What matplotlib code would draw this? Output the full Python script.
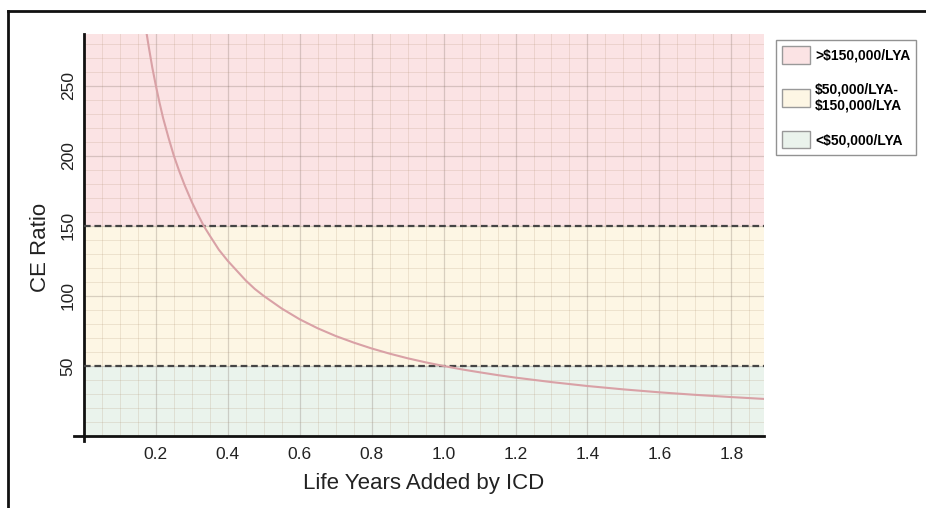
import matplotlib.pyplot as plt
from matplotlib.lines import Line2D
from matplotlib.patches import Patch
from matplotlib.ticker import MultipleLocator
import numpy as np

# values
life_years = [0.17, 0.18, 0.19, 0.20, 0.21, 0.22, 0.235, 0.25, 0.265, 0.28, 0.30,
              0.315, 0.333, 0.35, 0.375, 0.40, 0.425, 0.45, 0.475, 0.50, 0.55,
              0.60, 0.65, 0.70, 0.75, 0.80, 0.85, 0.90, 0.95, 1.00, 1.05, 1.10,
              1.15, 1.20, 1.30, 1.40, 1.50, 1.60, 1.70, 1.80, 1.89]
ce_ratio = [294, 278, 263, 250, 238, 227, 213, 200, 189, 179, 167,
            159, 150, 143, 133, 125, 118, 111, 105, 100, 91,
            83.3, 76.9, 71.4, 66.7, 62.5, 58.8, 55.5, 52.6, 50, 47.6, 45.5,
            43.5, 41.7, 38.5, 35.7, 33.3, 31.2, 29.4, 27.8, 26.5]

thresholds = [50, 150]
band_labels = ['>\\$150,000/LYA', '\\$50,000/LYA-\n\\$150,000/LYA', '<\\$50,000/LYA']
band_colors = ['#fbe3e4', '#fdf6e4', '#eaf3ec']
x_ticks = [0.2, 0.4, 0.6, 0.8, 1.0, 1.2, 1.4, 1.6, 1.8]
y_ticks = [50, 100, 150, 200, 250]

plt.rcParams['font.family'] = ['Liberation Sans', 'DejaVu Sans']

fig = plt.figure(figsize=(9.26, 5.08), dpi=100)
ax = fig.add_axes([0.0907, 0.1417, 0.734, 0.7913])
xmax, ymax = 1.89, 287

# colour bands
ax.axhspan(thresholds[1], ymax, color=band_colors[0], zorder=0, lw=0)
ax.axhspan(thresholds[0], thresholds[1], color=band_colors[1], zorder=0, lw=0)
ax.axhspan(0, thresholds[0], color=band_colors[2], zorder=0, lw=0)

ax.xaxis.set_minor_locator(MultipleLocator(0.05))
ax.yaxis.set_minor_locator(MultipleLocator(10))
ax.set_xticks(x_ticks)
ax.set_yticks(y_ticks)
ax.grid(which='major', color='#7a6a60', lw=0.9, alpha=0.28, zorder=1)
ax.grid(which='minor', color='#b09070', lw=0.7, alpha=0.2, zorder=1)
ax.set_axisbelow(True)

for t in thresholds:
    ax.axhline(t, color='#454545', lw=1.6, ls=(0, (3, 1.7)), zorder=3)

ax.plot(life_years, ce_ratio, color='#d9a1a6', lw=1.5, zorder=4)

ax.set_xlim(0, xmax)
ax.set_ylim(0, ymax)
for s in ['top', 'right']:
    ax.spines[s].set_visible(False)
for s in ['left', 'bottom']:
    ax.spines[s].set_linewidth(2)
    ax.spines[s].set_color('#111111')
ax.plot([-0.014, 0], [0, 0], transform=ax.transAxes, color='#111111', lw=2, clip_on=False)
ax.plot([0, 0], [-0.013, 0], transform=ax.transAxes, color='#111111', lw=2, clip_on=False)

ax.tick_params(which='both', length=0)
ax.tick_params(axis='x', labelsize=12.5, pad=8, colors='#222222')
ax.tick_params(axis='y', labelsize=12.5, pad=6, colors='#222222')
for lab in ax.get_yticklabels():
    lab.set_rotation(90)
    lab.set_va('center')

ax.set_xlabel('Life Years Added by ICD', fontsize=16, color='#222222', labelpad=8)
ax.set_ylabel('CE Ratio', fontsize=16, color='#222222')
ax.yaxis.set_label_coords(-0.048, 0.47)

handles = [Patch(facecolor=c, edgecolor='#999999', lw=1) for c in band_colors]
leg = fig.legend(handles, band_labels, loc='upper left', bbox_to_anchor=(0.838, 0.921),
                 frameon=True, fancybox=False, edgecolor='#777777',
                 prop={'weight': 'bold', 'size': 10}, labelspacing=1.3,
                 handlelength=2.0, handleheight=1.6, handletextpad=0.35,
                 borderpad=0.45, borderaxespad=0)
leg.get_frame().set_linewidth(1)

# outer frame (top and left only)
fig.add_artist(Line2D([8 / 926, 1], [1 - 11 / 508, 1 - 11 / 508], color='#111111', lw=2))
fig.add_artist(Line2D([8 / 926, 8 / 926], [0, 1 - 11 / 508], color='#111111', lw=2))

fig.savefig('out.png', dpi=100)
